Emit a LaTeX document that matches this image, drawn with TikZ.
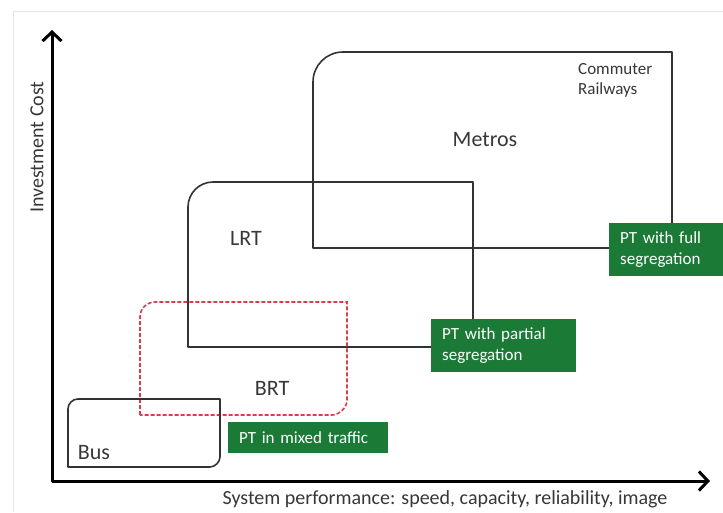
\documentclass[tikz,border=0pt]{standalone}
\usepackage{fontspec}
\setmainfont{Carlito}
\usepackage{tikz}
\usetikzlibrary{arrows.meta, positioning}
\definecolor{ptgreen}{RGB}{26,122,54}
\definecolor{brtred}{RGB}{218,62,74}
\definecolor{textgray}{RGB}{55,55,55}
\tikzstyle{region} = [line width=1.6pt, draw=black!80, line join=round]
\tikzstyle{brtzone} = [line width=1.6pt, draw=brtred, dash pattern=on 4pt off 2pt]
\tikzstyle{axis} = [line width=3pt, line join=round, {Straight Barb[length=9pt,width=19pt]}-{Straight Barb[length=9pt,width=19pt]}]
\tikzstyle{modename} = [inner sep=0pt, text=textgray, font=\fontsize{22}{26}\selectfont]
\tikzstyle{axistitle} = [inner sep=0pt, text=textgray, font=\fontsize{20}{24}\selectfont]
\tikzstyle{ptbox} = [rectangle, fill=ptgreen, text=white, align=left, anchor=north west, inner xsep=11pt, inner ysep=0pt, font=\fontsize{17}{21}\selectfont]

\begin{document}
\begin{tikzpicture}[x=1pt, y=-1pt]
  \useasboundingbox (0,0) rectangle (723,512);
  \draw[gray!20, line width=1pt] (13,512) -- (13,11) -- (723,11);

  % axes
  \coordinate (origin) at (52,481);
  \coordinate (xend) at (710,481);
  \coordinate (yend) at (52,30);
  \draw[axis] (xend) -- (origin) -- (yend);
  \node[axistitle, rotate=90] (ytitle) at (37,147) {Investment Cost};
  \node[axistitle] (xtitle) at (445,499) {System performance: speed, capacity, reliability, image};

  % regions
  \draw[region] (313,248) -- (313,82) .. controls (313,65.4) and (326.4,52) .. (343,52) -- (672,52) -- (672,248) -- cycle;
  \draw[region] (188,347) -- (188,207) .. controls (188,193.2) and (199.2,182) .. (213,182) -- (473,182) -- (473,347) -- cycle;
  \draw[brtzone] (140,415) -- (140,317) .. controls (140,308.7) and (146.7,302) .. (155,302) -- (347,302) -- (347,400) .. controls (347,408.3) and (338.3,415) .. (332,415) -- cycle;
  \draw[region] (68,467) -- (68,409) .. controls (68,403.5) and (72.5,399) .. (78,399) -- (220,399) -- (220,457) .. controls (220,461.5) and (215.5,467) .. (210,467) -- cycle;

  \node[modename] (metros) at (485,140) {Metros};
  \node[inner sep=0pt, text=textgray, font=\fontsize{17}{20}\selectfont, align=left, anchor=west] (commuter) at (578,80) {Commuter\\Railways};
  \node[modename] (lrt) at (246,238) {LRT};
  \node[modename] (brt) at (272,388) {BRT};
  \node[modename] (bus) at (94,453) {Bus};

  % segregation levels
  \node[ptbox, minimum width=114pt, text width=92pt, minimum height=53pt] (full) at (609,223) {PT with full\\segregation};
  \node[ptbox, minimum width=145pt, text width=123pt, minimum height=53pt] (partial) at (431,319) {PT with partial\\segregation};
  \node[ptbox, minimum width=160pt, text width=138pt, minimum height=31pt] (mixed) at (228,422) {PT in mixed traffic};
\end{tikzpicture}
\end{document}
